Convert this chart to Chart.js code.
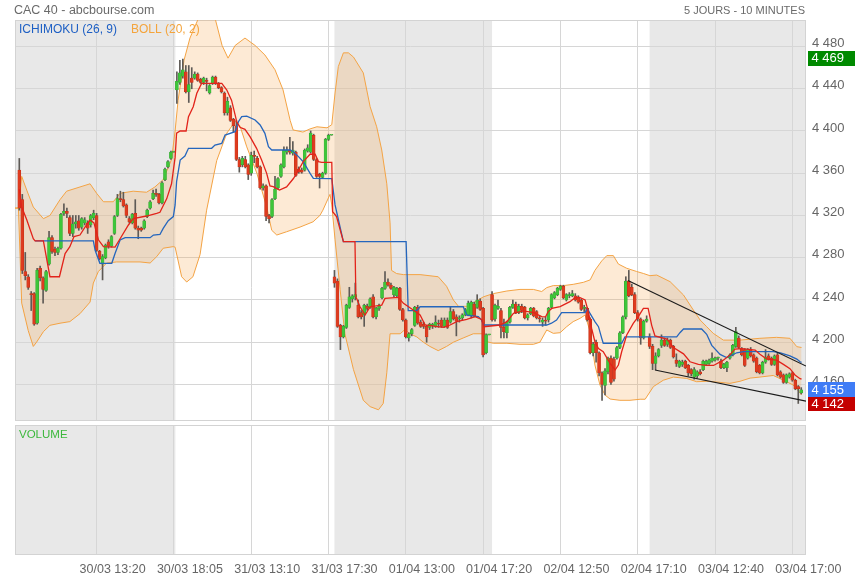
<!DOCTYPE html>
<html><head><meta charset="utf-8">
<script src="https://cdn.jsdelivr.net/npm/chart.js@4.4.1/dist/chart.umd.min.js"></script>
<style>html,body{margin:0;padding:0;background:#fff;}canvas{display:block;}</style>
</head><body>
<canvas id="c" width="855" height="580"></canvas>
<script>
const FONT = "'Liberation Sans', Arial, sans-serif";
const titleText = 'CAC 40 - abcbourse.com';
const periodText = '5 JOURS - 10 MINUTES';
const legendIchimoku = 'ICHIMOKU (26, 9)';
const legendBoll = 'BOLL (20, 2)';
const volumeText = 'VOLUME';

// x tick positions (bar index) and labels
const tickIndex = [26, 52, 78, 104, 130, 156, 182, 208, 234, 260];
const tickLabels = ['30/03 13:20','30/03 18:05','31/03 13:10','31/03 17:30','01/04 13:00','01/04 17:20','02/04 12:50','02/04 17:10','03/04 12:40','03/04 17:00'];
const priceTicks = [4160, 4200, 4240, 4280, 4320, 4360, 4400, 4440, 4480];
// shaded sessions (bar index ranges)
const sessions = [[-2, 52.5], [106, 159], [212, 266]];
// last / high / low badges
const badgeValues = [4469, 4142, 4155];

// 10-minute candles (30/03 -> 03/04)
const opens = [
4363,4335,4267,4262,4246,4246,4218,4270,4261,4249,4274,4299,4288,4285,4289,4322,4324,4318,4303,4312,4315,4309,4313,4313,4311,4318,4320,4286,4274,4280,4295,4291,4303,4320,4336,4335,4330,4317,4313,4322,4308,4308,4308,4319,4327,4336,4341,4340,4332,4354,4366,4374,4380,
4439,4446,4452,4456,4437,4450,4450,4454,4449,4446,4448,4436,4445,4451,4445,4441,4436,4417,4422,4411,4405,4373,4368,4373,4368,4360,4377,4374,4366,4346,4348,4320,4319,4336,4346,4357,4366,4380,4382,4379,4380,4364,4363,4363,4381,4380,4396,4373,4359,4356,4360,4392,4396,
4262,4258,4216,4205,4214,4233,4241,4243,4235,4228,4226,4234,4233,4243,4224,4232,4242,4251,4257,4254,4245,4244,4251,4231,4221,4204,4208,4216,4233,4219,4217,4215,4214,4216,4215,4218,4221,4215,4221,4219,4229,4224,4222,4223,4226,4226,4225,4236,4233,4239,4232,4190,4207,
4245,4222,4232,4230,4214,4209,4219,4233,4236,4228,4234,4233,4223,4227,4232,4229,4223,4219,4221,4221,4233,4242,4245,4250,4253,4240,4244,4244,4244,4243,4240,4232,4232,4222,4190,4200,4190,4171,4159,4172,4185,4184,4185,4195,4209,4224,4258,4252,4245,4228,4222,4204,4220,
4205,4196,4180,4187,4197,4202,4198,4202,4196,4183,4177,4179,4182,4178,4174,4167,4168,4172,4174,4179,4180,4182,4183,4185,4182,4176,4176,4185,4188,4196,4204,4194,4193,4185,4193,4188,4185,4178,4171,4181,4187,4185,4179,4188,4172,4169,4162,4167,4171,4164,4158,4152];
const highs = [
4374,4340,4285,4264,4248,4247,4270,4272,4262,4268,4305,4301,4290,4290,4322,4331,4327,4320,4320,4320,4320,4318,4318,4315,4321,4325,4322,4287,4283,4293,4297,4301,4320,4340,4343,4342,4331,4319,4322,4335,4310,4309,4316,4326,4334,4344,4345,4341,4352,4365,4372,4381,4380,
4456,4467,4468,4462,4462,4460,4456,4455,4450,4451,4450,4444,4452,4452,4446,4442,4437,4432,4424,4412,4410,4375,4376,4376,4369,4380,4381,4376,4367,4350,4349,4321,4336,4357,4356,4369,4385,4385,4394,4390,4381,4366,4365,4383,4387,4400,4397,4374,4360,4361,4393,4397,4396,
4268,4260,4217,4216,4236,4252,4245,4256,4240,4230,4236,4236,4242,4245,4233,4236,4252,4267,4260,4256,4253,4252,4252,4232,4222,4209,4213,4234,4235,4221,4219,4216,4218,4218,4225,4221,4223,4223,4223,4234,4231,4226,4225,4227,4232,4239,4239,4238,4245,4241,4233,4208,4207,
4248,4236,4240,4232,4222,4220,4234,4240,4238,4236,4236,4234,4227,4233,4233,4230,4225,4223,4224,4233,4246,4248,4252,4254,4254,4246,4247,4249,4246,4244,4241,4235,4233,4223,4200,4202,4191,4172,4175,4186,4187,4186,4196,4210,4225,4262,4268,4255,4247,4230,4223,4221,4225,
4208,4198,4190,4194,4207,4204,4204,4203,4197,4189,4183,4183,4183,4179,4175,4176,4173,4174,4183,4183,4184,4190,4186,4186,4184,4180,4182,4189,4198,4214,4206,4195,4194,4194,4195,4189,4186,4179,4182,4193,4189,4186,4188,4190,4173,4170,4170,4171,4172,4165,4159,4157];
const lows = [
4325,4265,4259,4250,4230,4216,4217,4258,4237,4248,4273,4284,4282,4283,4288,4320,4318,4301,4300,4308,4306,4307,4311,4303,4309,4316,4286,4278,4259,4279,4289,4290,4302,4319,4333,4328,4318,4313,4312,4307,4298,4305,4307,4318,4326,4335,4338,4331,4331,4353,4365,4373,4380,
4426,4444,4450,4436,4427,4440,4449,4447,4445,4444,4438,4435,4444,4444,4440,4436,4415,4415,4409,4399,4372,4361,4366,4365,4354,4358,4370,4365,4345,4344,4315,4313,4318,4335,4345,4356,4365,4378,4378,4377,4357,4360,4360,4362,4380,4379,4372,4356,4346,4355,4359,4391,4396,
4252,4214,4193,4204,4213,4232,4238,4240,4223,4222,4215,4230,4232,4223,4222,4230,4241,4250,4253,4250,4243,4243,4230,4220,4204,4201,4206,4215,4217,4214,4213,4200,4212,4213,4214,4214,4214,4214,4213,4218,4221,4206,4219,4221,4225,4225,4223,4224,4232,4230,4186,4189,4207,
4220,4220,4231,4204,4204,4204,4218,4232,4227,4227,4228,4222,4221,4226,4224,4222,4219,4215,4216,4219,4232,4241,4244,4249,4241,4239,4242,4243,4239,4237,4230,4229,4220,4189,4187,4181,4168,4145,4150,4170,4160,4163,4184,4194,4208,4222,4243,4244,4227,4220,4198,4203,4219,
4194,4174,4174,4186,4195,4196,4196,4194,4185,4177,4176,4177,4175,4168,4168,4165,4166,4169,4173,4178,4179,4181,4182,4183,4175,4175,4172,4184,4187,4195,4194,4187,4177,4184,4186,4181,4171,4170,4170,4180,4183,4178,4178,4168,4166,4161,4161,4166,4163,4155,4142,4151];
const closes = [
4327,4268,4263,4252,4245,4217,4268,4261,4250,4267,4299,4286,4285,4289,4321,4324,4322,4303,4312,4314,4308,4317,4316,4308,4320,4322,4287,4279,4281,4292,4291,4300,4319,4336,4335,4329,4320,4314,4321,4308,4306,4306,4315,4325,4333,4341,4340,4332,4351,4364,4371,4380,4380,
4447,4455,4458,4437,4444,4446,4454,4448,4446,4450,4447,4443,4451,4445,4441,4437,4417,4428,4410,4405,4373,4366,4374,4366,4359,4377,4376,4366,4346,4348,4319,4317,4335,4345,4355,4368,4382,4382,4380,4382,4358,4361,4361,4382,4384,4398,4373,4357,4357,4360,4392,4396,4396,
4256,4215,4205,4215,4235,4243,4244,4245,4224,4224,4235,4232,4241,4224,4232,4234,4251,4257,4254,4251,4252,4251,4231,4221,4205,4208,4212,4233,4218,4215,4215,4205,4217,4216,4219,4217,4215,4221,4214,4229,4222,4220,4223,4226,4231,4237,4238,4225,4240,4231,4188,4207,4207,
4221,4235,4234,4214,4210,4219,4233,4236,4228,4234,4230,4223,4226,4232,4225,4223,4222,4221,4220,4232,4245,4247,4251,4253,4242,4245,4245,4246,4240,4238,4231,4233,4221,4190,4198,4190,4171,4160,4173,4185,4162,4165,4195,4209,4224,4258,4244,4245,4228,4222,4204,4220,4222,
4196,4180,4187,4193,4202,4197,4202,4195,4186,4180,4182,4181,4176,4171,4170,4174,4172,4170,4182,4182,4183,4185,4185,4185,4176,4179,4181,4188,4197,4210,4195,4188,4178,4193,4187,4182,4172,4171,4181,4186,4184,4179,4187,4169,4167,4162,4169,4170,4164,4156,4156,4155];

// Bollinger (20, 2) bands: [bar index, value]
const bollUpper = [[-1.45,4327],[-0.3,4327],[0.8,4357],[2.5,4344],[4.7,4328],[8.1,4317],[10.3,4320],[13.7,4335],[15.9,4343],[20.4,4347],[23.8,4350],[26,4341],[28.3,4333],[31.6,4333],[33.9,4341],[38.3,4343],[42.8,4342],[45.6,4347],[48.4,4354],[51.2,4373],[52.4,4400],[53.4,4429],[55.4,4467],[57.4,4488],[60,4505],[63,4515],[66,4505],[68.2,4481],[70.2,4469],[72.6,4481],[75.9,4488],[79.3,4481],[82.6,4472],[86,4458],[88.7,4439],[91.1,4410],[92.1,4401],[95.4,4399],[97.8,4402],[100.1,4404],[103.5,4403],[105.1,4406],[106.2,4436],[107.3,4461],[109,4474],[110.7,4474],[112.4,4470],[115.7,4455],[118,4423],[120.2,4404],[121.9,4382],[123.6,4350],[124.7,4313],[125.2,4268],[126.9,4265],[129.2,4264],[134.8,4264],[140.9,4262],[143.7,4253],[146,4240],[147.7,4234],[150.5,4234],[153.8,4239],[156.1,4243],[159.4,4246],[164,4248.5],[168.4,4250],[172.9,4250],[175.7,4248],[177.4,4251.7],[179.6,4253.6],[183,4253.6],[186.3,4254.8],[189.7,4256.7],[192,4259],[193.6,4268],[195.9,4277],[197.6,4282],[199.8,4282],[201.5,4274],[204.3,4270],[207.6,4267],[210,4265],[212.1,4263],[214.4,4263.6],[218.9,4257.3],[223.4,4244.7],[226.7,4230.5],[229,4221],[231.2,4214.7],[233.4,4208.4],[236.8,4202],[242.4,4202],[249.1,4203.7],[254.7,4204.6],[259.2,4203.7],[261.5,4195.8],[263.1,4195]];
const bollLower = [[-1.45,4327],[-0.3,4327],[0.8,4237],[3,4211],[4.7,4196],[5.8,4200],[8.1,4210],[10.3,4216],[13.7,4218],[17,4219.5],[20.4,4227],[23.8,4238],[24.9,4256],[26.6,4267],[29.4,4275],[32.7,4276],[40.6,4276],[44,4275],[46.2,4281],[48.4,4289],[51.8,4290.5],[52.4,4290],[54.6,4262],[56.3,4257],[58.4,4262],[60.8,4283],[63,4325],[66.4,4372],[69.8,4398],[72.6,4409],[74.2,4405],[76.5,4385],[79.9,4360],[83.2,4328],[84.9,4306],[86.6,4301.5],[89.9,4304.6],[94.4,4309],[98.8,4314],[101.1,4320],[102.1,4325],[104.5,4340],[105.1,4330],[106.2,4297],[107.9,4250],[109.5,4208],[112.4,4174],[115.7,4145],[118,4139],[120.8,4136],[122.4,4142],[123.6,4171],[124.7,4208],[128.1,4208],[129.7,4212],[131.4,4208],[133.7,4205],[135.9,4200],[138.1,4196],[140.9,4192],[143.7,4196],[146,4200],[149.3,4204],[152.7,4208],[156.1,4208],[157.2,4200.5],[159.4,4199],[164,4199],[168.4,4198],[172.9,4198],[175.1,4200],[177.4,4211.6],[179.6,4208.4],[181.9,4209],[184.1,4214.7],[186.3,4219.5],[188.6,4222.6],[190.3,4225.8],[192,4210],[193.6,4178.4],[195.3,4159.5],[197,4150],[198.7,4146.2],[202,4145],[205.4,4145],[208.8,4146],[210.5,4146],[213.3,4158],[216.6,4164],[220,4167],[224.5,4165.7],[227.8,4162.6],[231.2,4163],[235.7,4162],[239,4161],[242.4,4163],[245.8,4166],[249.1,4167],[253.6,4168.5],[257,4164],[260.3,4159.5],[262.6,4152],[263.1,4150]];
// Ichimoku (26, 9): tenkan (red) and kijun (blue)
const tenkan = [[0,4345],[0.8,4328],[2.5,4316],[4.7,4298],[5.3,4296],[8.1,4296],[10.3,4262],[13.5,4262],[15.4,4284],[17,4290.4],[18.4,4300],[20.4,4301.5],[22.1,4309],[23.8,4315.7],[25.1,4313],[26.6,4297],[28.3,4290.5],[32.2,4290],[33.9,4298],[36.7,4311],[38.3,4317],[42.8,4319.5],[46.2,4322],[47.3,4323],[49.6,4336],[51.2,4350],[52.4,4375],[52.9,4398],[54.1,4400],[56.1,4400],[56.9,4413.6],[58.5,4423],[59.7,4435.7],[61.3,4445],[68.1,4445],[69.8,4438.8],[71.4,4429],[72.6,4415],[73.1,4409],[74.2,4403.5],[75.9,4401.6],[77.6,4394.6],[79.8,4383.6],[81.5,4372.5],[83.2,4359.9],[84.3,4348],[85.4,4347.3],[87.5,4344],[89.9,4347],[92.2,4355],[93.3,4360],[95.5,4371],[97.8,4378],[99.5,4378],[100.6,4371],[101.7,4370.3],[105.1,4370.3],[105.4,4323.6],[106.7,4318.9],[109,4295.2],[112.9,4295.2],[113.2,4243.1],[114.6,4233.6],[116.3,4225.7],[118,4233.6],[121.9,4235.2],[123,4241.5],[127.5,4242.5],[129.2,4236.8],[132.5,4230.5],[134.8,4225.8],[136.5,4216.3],[142.6,4214],[144.9,4216.3],[147.1,4219.4],[150.5,4221.6],[153.3,4224.2],[155.5,4221.6],[156.3,4214.7],[161.7,4216.3],[164,4219.5],[166.2,4227.4],[169.5,4229.6],[173,4228],[175.7,4224.2],[177,4224],[177.9,4229],[179.1,4232],[181.9,4233.7],[185.2,4238.4],[186.9,4242.2],[188.6,4242.2],[190.3,4240],[191.4,4229],[192.5,4213],[193.6,4200.5],[194.8,4194],[196.4,4191],[198.7,4180],[200.4,4173.7],[201.5,4178.4],[202.6,4191],[204.3,4206.8],[206.5,4217.9],[208.2,4224.2],[209.9,4232.1],[211.5,4232],[212.7,4216],[213.8,4206],[217.8,4203],[220,4195],[223.4,4189],[225.6,4181.5],[228.4,4179],[231.2,4178],[233.5,4178],[236.8,4183],[239,4188],[240.7,4193.5],[243,4194],[247.5,4192.5],[249.1,4188.5],[251.4,4184],[254.7,4183],[257,4179],[259.2,4175],[260.9,4169],[262.6,4165.5],[263.1,4165]];
const kijun = [[5.3,4296],[24.9,4296],[25.5,4287],[27.1,4274.7],[31.1,4274.7],[32.2,4284],[33.9,4296.8],[35.6,4299],[44,4299],[45.1,4301.5],[47.3,4302],[48.4,4307.8],[50.1,4315],[51.8,4319],[52.4,4330],[52.9,4352],[54.1,4372.5],[55.7,4376.3],[56.9,4383.6],[64.7,4383.6],[65.8,4386.7],[68.1,4388.3],[69.2,4396.2],[72.6,4399.4],[73.7,4408.8],[74.8,4413.6],[76.5,4414],[79.3,4410.4],[81,4405.7],[82.6,4397.8],[83.8,4385.1],[84.9,4382],[91.05,4382],[92.2,4380.4],[93.9,4375.7],[95.5,4370.9],[97.8,4359.9],[98.9,4355.2],[105.1,4355],[106.2,4330],[109,4295.2],[130.1,4295.2],[130.8,4230],[133.7,4230],[134.8,4233.6],[149.3,4233.6],[150.5,4225.7],[154.4,4224.2],[155.5,4221],[156.1,4216.3],[177.4,4216.3],[179,4218],[180.7,4221],[182.4,4228],[190.3,4228],[191.1,4232],[192,4227],[193.6,4219.5],[194.8,4214.7],[195.9,4203.7],[196.4,4199],[202.6,4199],[203.7,4205],[221.1,4205],[222.2,4209],[223.4,4212.5],[229.5,4212.5],[231.2,4207.5],[232.9,4197],[235.7,4188.5],[237.9,4185.5],[241.3,4190],[243.5,4191],[253.6,4191],[256,4190],[259.2,4187],[261.5,4184],[262.6,4181.5],[263.1,4181]];
// drawn trend lines
const trendHigh = [[204.7,4258.4],[264.6,4177.4]];
const trendLow = [[213.8,4173.7],[264.6,4144.3]];

const GAP = 4;
const fmt = v => String(v).replace(/\B(?=(\d{3})+(?!\d))/g, ' ');
const toXY = a => a.map(([x, y]) => ({x, y}));
const idx = opens.map((_, i) => i);
const bodyData = idx.map(i => ({x: i, y: [opens[i], closes[i]]}));
const wickData = idx.map(i => ({x: i, y: [lows[i], highs[i]]}));
const up = i => closes[i] >= opens[i];
const bodyFill = idx.map(i => up(i) ? '#3ec63a' : '#de3b1f');
const bodyEdge = idx.map(i => up(i) ? '#35a532' : '#bd3018');
const badgeColor = v => v === 4469 ? '#008a00' : (v === 4155 ? '#3f7cf6' : '#c40000');

const panels = {
  id: 'panels',
  beforeDraw(chart) {
    const {ctx, chartArea: a, scales: {x, y, y2}} = chart;
    ctx.save();
    ctx.fillStyle = '#fff'; ctx.fillRect(0, 0, chart.width, chart.height);
    ctx.fillStyle = '#e8e8e8';
    for (const [s, e] of sessions) {
      const x0 = Math.max(a.left, x.getPixelForValue(s));
      const x1 = Math.min(a.right, x.getPixelForValue(e));
      ctx.fillRect(x0, y.top, x1 - x0, y.bottom - y.top);
      ctx.fillRect(x0, y2.top + GAP, x1 - x0, y2.bottom - y2.top - GAP);
    }
    ctx.restore();
  },
  beforeDatasetsDraw(chart) {
    const {ctx, chartArea: a, scales: {y, y2}} = chart;
    ctx.save();
    ctx.fillStyle = '#fff';
    ctx.fillRect(a.left - 1, y.bottom, a.right - a.left + 2, GAP);
    ctx.strokeStyle = '#d3d3d3'; ctx.lineWidth = 1;
    ctx.strokeRect(a.left + 0.5, y.top + 0.5, a.right - a.left - 1, y.bottom - y.top - 1);
    ctx.strokeRect(a.left + 0.5, y2.top + GAP + 0.5, a.right - a.left - 1, y2.bottom - y2.top - GAP - 1);
    ctx.restore();
  },
  afterDraw(chart) {
    const {ctx, chartArea: a, scales: {y, y2}} = chart;
    ctx.save();
    ctx.textBaseline = 'alphabetic';
    ctx.fillStyle = '#6a6a6a';
    ctx.font = `12.5px ${FONT}`; ctx.textAlign = 'left';
    ctx.fillText(titleText, 14, 13.5);
    ctx.font = `11px ${FONT}`; ctx.textAlign = 'right';
    ctx.fillText(periodText, 805, 13.5);
    ctx.textAlign = 'left';
    ctx.font = `12px ${FONT}`;
    ctx.fillStyle = '#1d5fc4'; ctx.fillText(legendIchimoku, 19, 33);
    ctx.fillStyle = '#f4a43c'; ctx.fillText(legendBoll, 131, 33);
    ctx.font = `11.5px ${FONT}`;
    ctx.fillStyle = '#3cb83c'; ctx.fillText(volumeText, 19, y2.top + GAP + 13);
    ctx.font = `13px ${FONT}`; ctx.textBaseline = 'middle';
    for (const v of badgeValues) {
      const py = y.getPixelForValue(v);
      ctx.fillStyle = badgeColor(v);
      ctx.fillRect(808, Math.round(py - 7.5), 47, 15);
      ctx.fillStyle = '#fff';
      ctx.fillText(fmt(v), 811.5, py + 0.5);
    }
    ctx.restore();
  }
};

const line = (data, color, width, order) => ({type: 'line', data: toXY(data), borderColor: color, borderWidth: width, pointRadius: 0, tension: 0, fill: false, order});

new Chart(document.getElementById('c'), {
  data: {
    datasets: [
      line(trendHigh, '#1b1b1b', 1.2, 0),
      line(trendLow, '#1b1b1b', 1.2, 0),
      line(tenkan, '#e2231a', 1.3, 1),
      line(kijun, '#2566bd', 1.3, 2),
      {type: 'bar', data: bodyData, backgroundColor: bodyFill, borderColor: bodyEdge, borderWidth: 0.5, borderSkipped: false, barThickness: 3, grouped: false, minBarLength: 1, order: 3},
      {type: 'bar', data: wickData, backgroundColor: '#5e5a56', barThickness: 1, grouped: false, order: 4},
      {type: 'line', data: toXY(bollUpper), borderColor: '#f4a445', borderWidth: 1, pointRadius: 0, tension: 0, fill: '+1', backgroundColor: 'rgba(245,160,64,0.22)', order: 5},
      {type: 'line', data: toXY(bollLower), borderColor: '#f4a445', borderWidth: 1, pointRadius: 0, tension: 0, fill: false, order: 6}
    ]
  },
  options: {
    responsive: false, animation: false, devicePixelRatio: 1, events: [],
    layout: {padding: {left: 15, top: 20, right: 0, bottom: 0}},
    plugins: {legend: {display: false}, tooltip: {enabled: false}, title: {display: false}},
    scales: {
      x: {
        type: 'linear', position: 'bottom', min: -1.45, max: 264.6, offset: false,
        afterBuildTicks: s => { s.ticks = tickIndex.map(v => ({value: v})); },
        afterFit: s => { s.height = 25; },
        ticks: {autoSkip: false, maxRotation: 0, padding: 7, labelOffset: 16, color: '#666', font: {family: FONT, size: 12.5},
                callback: (v, i) => tickLabels[i]},
        grid: {color: '#d6d6d6', drawTicks: false, offset: false}, border: {display: false}
      },
      y: {
        type: 'linear', position: 'right', stack: 'panels', stackWeight: 401, min: 4125.4, max: 4505.1,
        afterBuildTicks: s => { s.ticks = priceTicks.map(v => ({value: v})); },
        afterFit: s => { s.width = 49; },
        ticks: {padding: 6, labelOffset: -3, color: '#666', font: {family: FONT, size: 13}, callback: v => fmt(v)},
        grid: {color: '#d6d6d6', drawTicks: false}, border: {display: false}
      },
      y2: {
        type: 'linear', position: 'right', stack: 'panels', stackWeight: 134, min: 0, max: 1,
        afterFit: s => { s.width = 49; },
        ticks: {display: false}, grid: {display: false}, border: {display: false}
      }
    }
  },
  plugins: [panels]
});
</script>
</body></html>
